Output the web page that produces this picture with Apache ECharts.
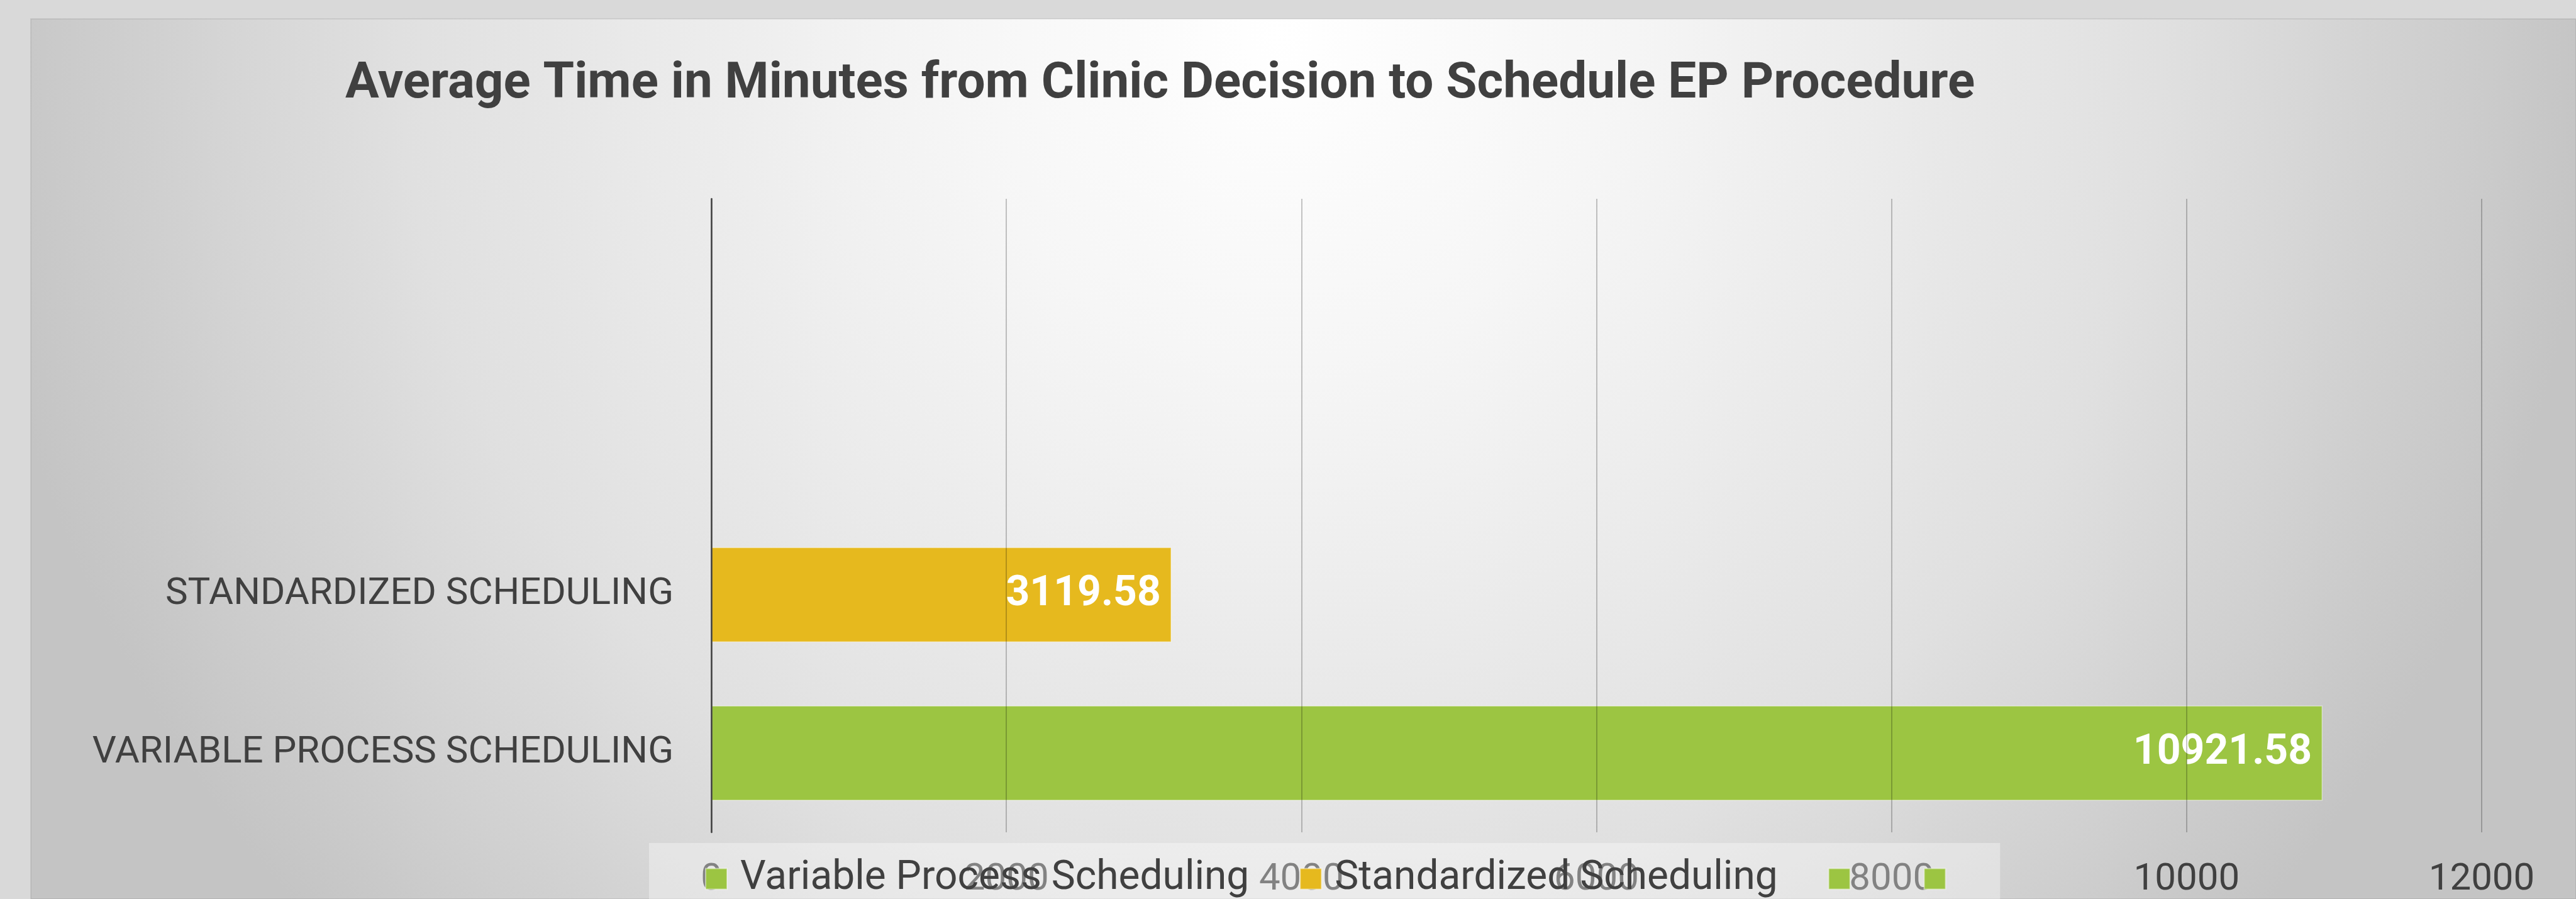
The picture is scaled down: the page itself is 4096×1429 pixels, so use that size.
<!DOCTYPE html>
<html>
<head>
<meta charset="utf-8">
<title>Average Time in Minutes from Clinic Decision to Schedule EP Procedure</title>
<script src="https://cdn.jsdelivr.net/npm/echarts@6/dist/echarts.min.js"></script>
<style>
  html, body { margin: 0; padding: 0; background: #d9d9d9; }
  #chart { width: 4096px; height: 1429px; }
</style>
</head>
<body>
<div id="chart"></div>
<script>
// chart data
var categories = ['VARIABLE PROCESS SCHEDULING', 'STANDARDIZED SCHEDULING', '', ''];
var seriesNames = ['Variable Process Scheduling', 'Standardized Scheduling', ' ', '  '];
var variableValues = [10921.58, null, null, null];
var standardValues = [null, 3119.58, null, null];
var emptyValues1 = [null, null, null, null];
var emptyValues2 = [null, null, null, null];
var xTicks = { min: 0, max: 12000, interval: 2000 };

var green = '#9cc542';
var yellow = '#e6b91e';
var textColor = '#404040';
var font = 'Roboto, "Noto Sans", sans-serif';

var myChart = echarts.init(document.getElementById('chart'));

function barSeries(name, data, color) {
  return {
    name: name,
    type: 'bar',
    stack: 'one',
    barWidth: '60%',
    data: data,
    itemStyle: {
      color: color,
      borderColor: 'rgba(255,255,255,0.45)',
      borderWidth: 1.5
    },
    label: {
      show: true,
      position: 'insideRight',
      distance: 17,
      color: '#ffffff',
      fontFamily: font,
      fontWeight: 'bold',
      fontSize: 66
    }
  };
}

myChart.setOption({
  animation: false,
  backgroundColor: '#d9d9d9',
  graphic: {
    elements: [{
      type: 'rect',
      z: -10,
      silent: true,
      shape: { x: 49, y: 30, width: 4047, height: 1399 },
      style: {
        fill: new echarts.graphic.RadialGradient(2037, 52, 2093, [
          { offset: 0, color: '#ffffff' },
          { offset: 0.25, color: '#f6f6f6' },
          { offset: 0.67, color: '#e0e0e0' },
          { offset: 1, color: '#c4c4c4' }
        ], true),
        stroke: 'rgba(0,0,0,0.08)',
        lineWidth: 2
      }
    }]
  },
  title: {
    text: 'Average Time in Minutes from Clinic Decision to Schedule EP Procedure',
    left: 549,
    top: 95,
    padding: 0,
    textStyle: {
      color: textColor,
      fontFamily: font,
      fontWeight: 'bold',
      fontSize: 80
    }
  },
  legend: {
    data: seriesNames,
    left: 1032,
    top: 1340,
    padding: [25, 34, 80, 89],
    itemWidth: 34,
    itemHeight: 33,
    itemGap: 80,
    icon: 'rect',
    backgroundColor: 'rgba(255,255,255,0.35)',
    textStyle: {
      color: textColor,
      fontFamily: font,
      fontSize: 64,
      lineHeight: 40,
      padding: [0, 0, 0, 16]
    }
  },
  grid: {
    left: 1131,
    right: 150,
    top: 316,
    bottom: 106,
    containLabel: false,
    outerBoundsMode: 'none'
  },
  xAxis: {
    type: 'value',
    min: xTicks.min,
    max: xTicks.max,
    interval: xTicks.interval,
    z: 3,
    axisLine: { show: false },
    axisTick: { show: false },
    splitLine: { show: true, lineStyle: { color: 'rgba(0,0,0,0.3)', width: 1.5 } },
    axisLabel: {
      color: textColor,
      fontFamily: font,
      fontSize: 60,
      margin: 46,
      formatter: function (v) { return String(v); }
    }
  },
  yAxis: {
    type: 'category',
    data: categories,
    z: 3,
    axisLine: { show: true, lineStyle: { color: textColor, width: 2.5 } },
    axisTick: { show: false },
    splitLine: { show: false },
    axisLabel: {
      color: textColor,
      fontFamily: font,
      fontSize: 60,
      margin: 60
    }
  },
  series: [
    barSeries(seriesNames[0], variableValues, green),
    barSeries(seriesNames[1], standardValues, yellow),
    barSeries(seriesNames[2], emptyValues1, green),
    barSeries(seriesNames[3], emptyValues2, green)
  ]
});
</script>
</body>
</html>
